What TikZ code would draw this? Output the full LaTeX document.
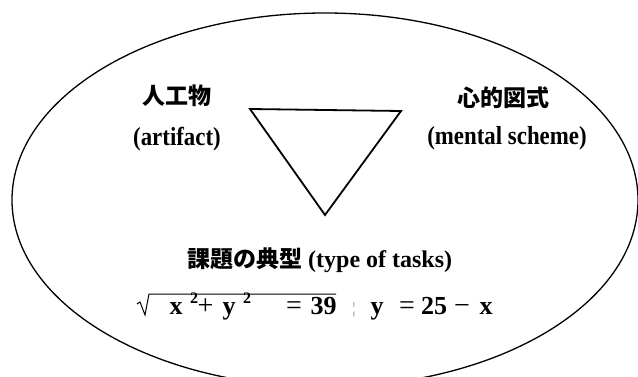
\documentclass[tikz,border=0pt]{standalone}
\usepackage{fontspec}
\setmainfont{Liberation Serif}
\newfontfamily\narrowfont{Liberation Serif}[FakeStretch=0.88]
\newfontfamily\jpfont{Noto Sans CJK JP}
\begin{document}
\begin{tikzpicture}[x=1pt,y=-1pt,
  lbl/.style={inner sep=0pt,font=\fontsize{26}{30}\selectfont\narrowfont\bfseries},
  jlbl/.style={inner sep=0pt,font=\fontsize{23}{28}\selectfont\jpfont\bfseries},
  eqs/.style={inner sep=0pt,anchor=base,font=\fontsize{26}{30}\selectfont\bfseries},
  eqsup/.style={inner sep=0pt,anchor=base,font=\fontsize{16}{18}\selectfont\bfseries},
  eqop/.style={inner sep=0pt,anchor=base,font=\fontsize{28}{30}\selectfont}]
\clip (0,0) rectangle (638,377);
\draw[line width=1.3pt] (325,200) ellipse [x radius=313pt, y radius=187pt];

\coordinate (tl) at (250,109);
\coordinate (tr) at (401,111);
\coordinate (bt) at (325,215);
\draw[line width=1.8pt,line join=miter] (tl) -- (tr) -- (bt) -- cycle;

\node[jlbl] (artj) at (177,96) {人工物};
\node[lbl] (arte) at (177,139.5) {(artifact)};
\node[jlbl] (menj) at (503.5,98) {心的図式};
\node[lbl] (mene) at (507,138.5) {(mental scheme)};

\node[inner sep=0pt,anchor=base west,font=\fontsize{24}{30}\selectfont\bfseries] (task) at (187,267)
  {{\jpfont\fontsize{23}{30}\selectfont 課題の典型} (type of tasks)};

\draw[line width=1pt] (137,304) -- (140,302) -- (145,315) -- (149,294) -- (336,294);
\node[eqs] (x1) at (176,314) {x};
\node[eqsup] (s1) at (194,303) {2};
\node[eqop] (pl) at (205.5,314) {+};
\node[eqs] (y1) at (229,314) {y};
\node[eqsup] (s2) at (247,303) {2};
\node[eqop] (eq1) at (294,314) {=};
\node[eqs] (n39) at (323.5,314) {39};
\node[eqsup,text=gray,font=\fontsize{16}{18}\selectfont] (bar) at (354,313) {¦};
\node[eqs] (y2) at (377,314) {y};
\node[eqop] (eq2) at (407,314) {=};
\node[eqs] (n25) at (434,314) {25};
\node[eqop] (mi) at (462,314) {−};
\node[eqs] (x2) at (486,314) {x};
\end{tikzpicture}
\end{document}
